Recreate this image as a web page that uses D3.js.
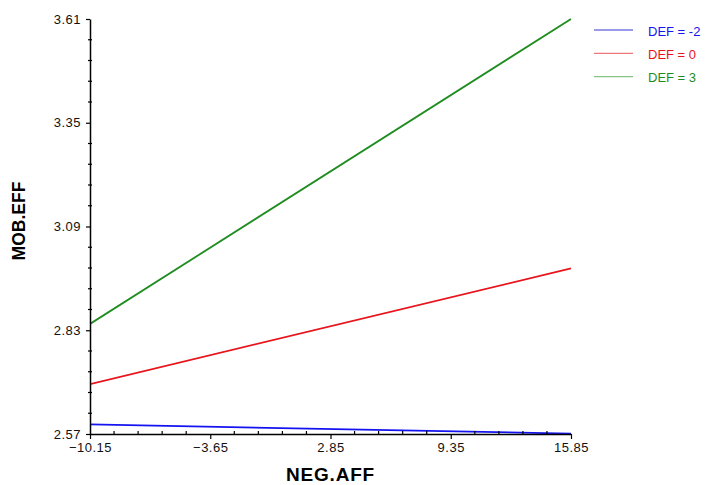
<!DOCTYPE html>
<html>
<head>
<meta charset="utf-8">
<script src="https://cdn.jsdelivr.net/npm/d3@7"></script>
<style>
  html, body { margin: 0; padding: 0; background: #fff; }
  svg { display: block; }
  text { font-family: Arial, "Liberation Sans", sans-serif; }
</style>
</head>
<body>
<svg id="chart" width="705" height="485"></svg>
<script>
// Simple slopes of MOB.EFF on NEG.AFF at three levels of DEF
const xEnds = [-10.15, 15.85];
const seriesNames = ["DEF = -2", "DEF = 0", "DEF = 3"];
const defMinus2 = [2.594, 2.571];
const def0 = [2.695, 2.985];
const def3 = [2.846, 3.61];
const seriesColors = ["#1414f0", "#e8141c", "#1f8c1f"];
const legendColors = ["#7878e6", "#f07878", "#86c486"];
const xTickLabels = [-10.15, -3.65, 2.85, 9.35, 15.85];
const yTickLabels = [2.57, 2.83, 3.09, 3.35, 3.61];

const svg = d3.select("#chart");
const x = d3.scaleLinear().domain([-10.15, 15.85]).range([90, 571]);
const y = d3.scaleLinear().domain([2.57, 3.61]).range([434, 19]);

// minor ticks: five subdivisions between labelled ticks
function minors(majors) {
  const out = [];
  for (let i = 0; i < majors.length - 1; i++) {
    const step = (majors[i + 1] - majors[i]) / 5;
    for (let k = 1; k < 5; k++) out.push(majors[i] + k * step);
  }
  return out;
}

const allSeries = [defMinus2, def0, def3];
const line = d3.line().x((d, i) => x(xEnds[i])).y(d => y(d));

const plot = svg.append("g");
plot.append("clipPath").attr("id", "clip").append("rect")
  .attr("x", 90).attr("y", 10).attr("width", 490).attr("height", 424);
allSeries.forEach((vals, i) => {
  plot.append("path")
    .datum(vals)
    .attr("d", line)
    .attr("fill", "none")
    .attr("stroke", seriesColors[i])
    .attr("stroke-width", 1.8)
    .attr("clip-path", "url(#clip)");
});

// y axis
const yAxis = svg.append("g").attr("transform", "translate(90,0)")
  .call(d3.axisLeft(y).tickValues(yTickLabels).tickSize(4).tickSizeOuter(0)
    .tickPadding(5).tickFormat(d3.format(".2f")));
yAxis.selectAll(".domain").attr("stroke", "#000").attr("stroke-width", 1.5);
yAxis.selectAll(".tick line").attr("stroke", "#000").attr("stroke-width", 1.2);
yAxis.selectAll(".tick text").attr("font-size", 13).attr("letter-spacing", 0.5)
  .attr("fill", "#111");
yAxis.selectAll(".minor").data(minors(yTickLabels)).enter().append("line")
  .attr("class", "minor")
  .attr("x1", -2).attr("x2", 2)
  .attr("y1", d => y(d)).attr("y2", d => y(d))
  .attr("stroke", "#000").attr("stroke-width", 1.2);

// x axis
const xAxis = svg.append("g").attr("transform", "translate(0,434)")
  .call(d3.axisBottom(x).tickValues(xTickLabels).tickSize(5).tickSizeOuter(0)
    .tickPadding(4).tickFormat(d3.format(".2f")));
xAxis.selectAll(".domain").attr("stroke", "#000").attr("stroke-width", 1.5);
xAxis.selectAll(".tick line").attr("stroke", "#000").attr("stroke-width", 1.2);
xAxis.selectAll(".tick text").attr("font-size", 13).attr("letter-spacing", 0.5)
  .attr("fill", "#111");
xAxis.selectAll(".minor").data(minors(xTickLabels)).enter().append("line")
  .attr("class", "minor")
  .attr("x1", d => x(d)).attr("x2", d => x(d))
  .attr("y1", 0).attr("y2", -3)
  .attr("stroke", "#000").attr("stroke-width", 1.2);

// axis titles
svg.append("text")
  .attr("x", 330.5).attr("y", 481)
  .attr("text-anchor", "middle")
  .attr("font-size", 19).attr("font-weight", "bold").attr("letter-spacing", 0.8)
  .text("NEG.AFF");
svg.append("text")
  .attr("transform", "translate(24.5,221) rotate(-90)")
  .attr("text-anchor", "middle")
  .attr("font-size", 17.5).attr("font-weight", "bold")
  .text("MOB.EFF");

// legend
const legend = svg.append("g");
seriesNames.forEach((name, i) => {
  const ly = 30 + i * 23.3;
  legend.append("line")
    .attr("x1", 594).attr("x2", 633).attr("y1", ly).attr("y2", ly)
    .attr("stroke", legendColors[i]).attr("stroke-width", 1.3);
  legend.append("text")
    .attr("x", 648).attr("y", ly + 5.5)
    .attr("font-size", 13)
    .attr("fill", seriesColors[i])
    .text(name);
});
</script>
</body>
</html>
